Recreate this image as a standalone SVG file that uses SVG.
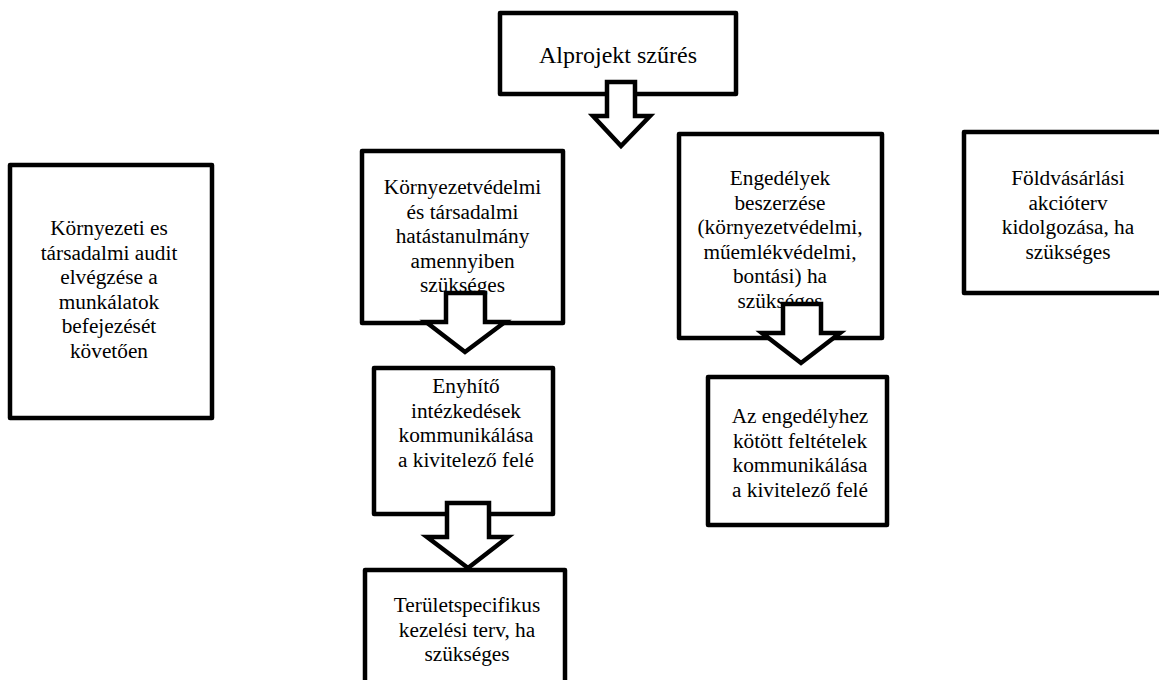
<svg xmlns="http://www.w3.org/2000/svg" width="1159" height="680" viewBox="0 0 1159 680">
<style>
.box{fill:#fff;stroke:#000;stroke-width:4.5;stroke-linejoin:round}
.arr{fill:#fff;stroke:#000;stroke-width:4.5;stroke-linejoin:miter}
.t{font-family:'Liberation Serif','Times New Roman',Times,'DejaVu Serif',serif;font-size:21.3px;fill:#000;text-anchor:middle}
.big{font-size:24px}
</style>
<rect width="1159" height="680" fill="#fff"/>
<g id="n-alprojekt">
<rect class="box" x="500" y="13" width="236" height="81"/>
<text class="t big" font-family="Liberation Serif, serif" x="618" y="63">Alprojekt szűrés</text>
</g>
<g id="n-kornyezetvedelmi" class="t" font-family="Liberation Serif, serif">
<rect class="box" x="362" y="151" width="201" height="172"/>
<text x="462.5" y="194">Környezetvédelmi</text>
<text x="462.5" y="218.5">és társadalmi</text>
<text x="462.5" y="243">hatástanulmány</text>
<text x="462.5" y="267.5">amennyiben</text>
<text x="462.5" y="292">szükséges</text>
</g>
<g id="n-enyhito" class="t" font-family="Liberation Serif, serif">
<rect class="box" x="374" y="368" width="179" height="146"/>
<text x="466" y="393">Enyhítő</text>
<text x="466" y="417.5">intézkedések</text>
<text x="466" y="442">kommunikálása</text>
<text x="466" y="466.5">a kivitelező felé</text>
</g>
<g id="n-teruletspecifikus" class="t" font-family="Liberation Serif, serif">
<rect class="box" x="365" y="570" width="200" height="130"/>
<text x="467" y="612">Területspecifikus</text>
<text x="467" y="636.5">kezelési terv, ha</text>
<text x="467" y="661">szükséges</text>
</g>
<g id="n-engedelyek" class="t" font-family="Liberation Serif, serif">
<rect class="box" x="679" y="134" width="203" height="204"/>
<text x="780" y="185">Engedélyek</text>
<text x="780" y="209.5">beszerzése</text>
<text x="780" y="234">(környezetvédelmi,</text>
<text x="780" y="258.5">műemlékvédelmi,</text>
<text x="780" y="283">bontási) ha</text>
<text x="780" y="307.5">szükséges</text>
</g>
<g id="n-engedelyhez" class="t" font-family="Liberation Serif, serif">
<rect class="box" x="708" y="377" width="179" height="148"/>
<text x="800" y="423">Az engedélyhez</text>
<text x="800" y="447.5">kötött feltételek</text>
<text x="800" y="472">kommunikálása</text>
<text x="800" y="496.5">a kivitelező felé</text>
</g>
<g id="n-foldvasarlasi" class="t" font-family="Liberation Serif, serif">
<rect class="box" x="964" y="132" width="210" height="161"/>
<text x="1068" y="185">Földvásárlási</text>
<text x="1068" y="209.5">akcióterv</text>
<text x="1068" y="234">kidolgozása, ha</text>
<text x="1068" y="258.5">szükséges</text>
</g>
<g id="n-audit" class="t" font-family="Liberation Serif, serif">
<rect class="box" x="10" y="165" width="202" height="253"/>
<text x="109" y="235">Környezeti es</text>
<text x="109" y="259.5">társadalmi audit</text>
<text x="109" y="284">elvégzése a</text>
<text x="109" y="308.5">munkálatok</text>
<text x="109" y="333">befejezését</text>
<text x="109" y="357.5">követően</text>
</g>
<g id="connectors">
<polygon class="arr" points="607,82 635,82 635,116 650,116 621,146 593,116 607,116"/>
<polygon class="arr" points="446,293 485,293 485,322 505,322 465,352 426,322 446,322"/>
<polygon class="arr" points="447,503 489,503 489,537 508,537 468,568 427,537 447,537"/>
<polygon class="arr" points="783,304 821,304 821,333 840,333 801,363 762,333 783,333"/>
</g>
</svg>
